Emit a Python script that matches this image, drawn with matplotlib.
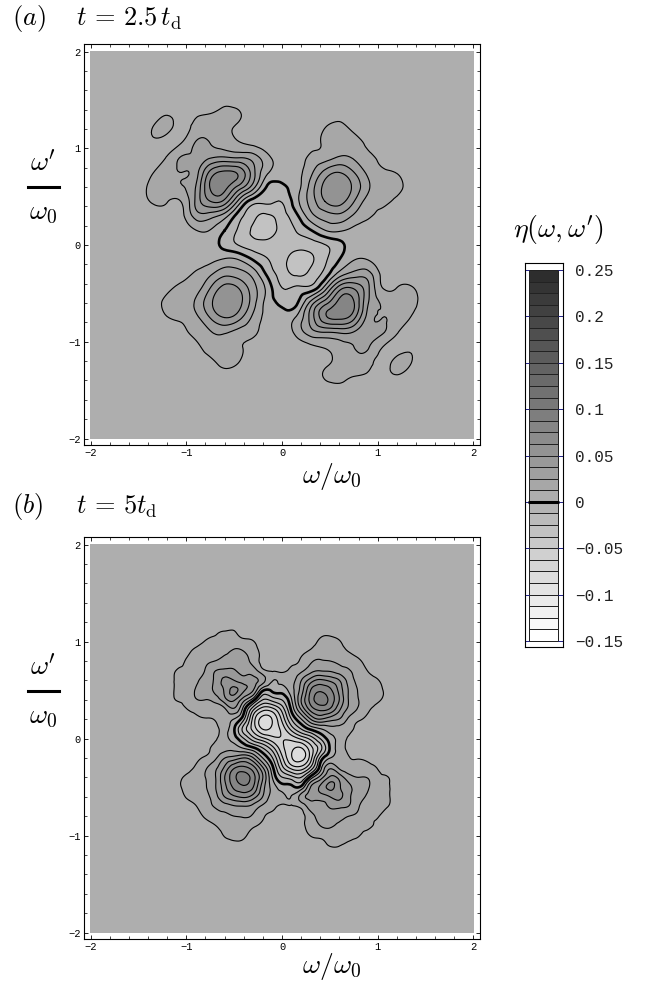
import numpy as np
import matplotlib
matplotlib.use("Agg")
import matplotlib.pyplot as plt
from matplotlib.colors import ListedColormap, BoundaryNorm
from matplotlib.lines import Line2D
from matplotlib.ticker import MultipleLocator
from matplotlib.tri import Triangulation, UniformTriRefiner

plt.rcParams['mathtext.fontset'] = 'cm'

W, H = 652, 985

# eta in units of 0.001, half plane only (eta(-w,-w') = eta(w,w'))
# rows are w' = 0, step, 2*step ... ; columns are |w| = 0, step, 2*step ...
step_a = 0.15
eta_a_right = [
    [-20, -21, -19, -13, -4, 5, 6, 6, 6, 6, 6, 6],
    [-21, -12, -1, 12, 14, 9, 7, 6, 6, 6, 6, 6],
    [-18, -3, 20, 31, 34, 23, 14, 9, 6, 6, 6, 6],
    [-12, 8, 30, 50, 55, 38, 20, 15, 10, 6, 6, 6],
    [-3, 7, 30, 54, 60, 47, 27, 17, 15, 8, 6, 6],
    [5, 8, 22, 42, 50, 38, 22, 14, 12, 6, 6, 6],
    [6, 6, 15, 20, 27, 24, 16, 10, 7, 6, 6, 6],
    [6, 6, 9, 14, 19, 18, 10, 7, 6, 6, 6, 6],
    [6, 6, 7, 13, 17, 10, 7, 6, 6, 6, 6, 6],
    [6, 6, 6, 6, 8, 6, 6, 6, 6, 6, 6, 6],
    [6, 6, 6, 6, 6, 6, 6, 6, 6, 6, 6, 6],
    [6, 6, 6, 6, 6, 6, 6, 6, 6, 6, 6, 6],
]
eta_a_left = [
    [-20, -21, -19, -13, -4, 5, 6, 6, 6, 6, 6, 6],
    [-21, -30, -27, -15, 0, 12, 12, 6, 6, 6, 6, 6],
    [-18, -27, -22, -7, 18, 30, 30, 9, 6, 6, 6, 6],
    [-12, -10, -7, 20, 58, 62, 40, 13, 13, 14, 7, 6],
    [-3, -2, 30, 58, 80, 76, 38, 24, 18, 16, 7, 6],
    [5, 14, 42, 72, 78, 66, 32, 25, 20, 12, 6, 6],
    [6, 16, 32, 38, 40, 37, 27, 26, 14, 7, 6, 6],
    [6, 6, 10, 14, 20, 25, 26, 13, 8, 10, 7, 6],
    [6, 6, 6, 9, 17, 20, 17, 9, 15, 13, 6, 6],
    [6, 6, 6, 14, 17, 13, 11, 9, 12, 7, 6, 6],
    [6, 6, 6, 6, 8, 6, 6, 6, 6, 6, 6, 6],
    [6, 6, 6, 6, 6, 6, 6, 6, 6, 6, 6, 6],
]

step_b = 0.1
eta_b_right = [
    [-62, -58, -47, -33, -12, 6, 15, 11, 8, 7, 6, 6, 6],
    [-58, -32, -12, 3, 12, 20, 20, 15, 10, 7, 6, 6, 6],
    [-47, -12, 12, 38, 50, 43, 37, 22, 14, 10, 7, 6, 6],
    [-33, 3, 38, 67, 78, 73, 52, 34, 23, 14, 9, 6, 6],
    [-12, 12, 50, 80, 94, 84, 62, 36, 25, 18, 14, 9, 6],
    [6, 20, 43, 75, 85, 78, 58, 36, 24, 18, 15, 10, 7],
    [15, 20, 37, 56, 65, 60, 50, 32, 22, 16, 13, 8, 6],
    [11, 15, 22, 33, 37, 36, 31, 26, 19, 12, 9, 7, 6],
    [8, 10, 14, 23, 26, 25, 23, 19, 14, 9, 7, 6, 6],
    [7, 7, 10, 14, 18, 18, 16, 12, 9, 8, 7, 6, 6],
    [6, 6, 7, 9, 14, 15, 13, 9, 7, 7, 6, 6, 6],
    [6, 6, 6, 6, 9, 10, 8, 7, 6, 6, 6, 6, 6],
    [6, 6, 6, 6, 6, 7, 6, 6, 6, 6, 6, 6, 6],
]
eta_b_left = [
    [-62, -58, -47, -33, -12, 6, 15, 11, 8, 7, 6, 6, 6],
    [-58, -72, -76, -55, -30, 1, 15, 10, 8, 7, 6, 6, 6],
    [-47, -74, -80, -55, -10, 12, 17, 13, 12, 11, 8, 6, 6],
    [-33, -55, -58, -35, 6, 35, 22, 17, 17, 15, 12, 8, 6],
    [-12, -20, -25, 5, 30, 52, 45, 30, 25, 24, 15, 13, 8],
    [6, 3, 3, 38, 52, 66, 52, 40, 30, 26, 16, 14, 8],
    [15, 13, 30, 42, 44, 50, 53, 40, 30, 22, 15, 14, 8],
    [11, 12, 16, 31, 32, 39, 40, 37, 26, 17, 14, 13, 7],
    [8, 8, 9, 20, 29, 30, 30, 25, 22, 15, 13, 8, 6],
    [7, 7, 10, 17, 25, 27, 21, 17, 16, 14, 10, 6, 6],
    [6, 6, 7, 13, 15, 16, 15, 14, 13, 9, 7, 6, 6],
    [6, 6, 6, 7, 9, 13, 13, 11, 8, 6, 6, 6, 6],
    [6, 6, 6, 6, 6, 8, 7, 7, 6, 6, 6, 6, 6],
]
background = 6

levels = np.arange(-12, 21) * 0.0125
bar_ticks = [0.25, 0.2, 0.15, 0.1, 0.05, 0, -0.05, -0.1, -0.15]
bar_labels = ['0.25', '0.2', '0.15', '0.1', '0.05', '0', '\u22120.05', '\u22120.1', '\u22120.15']
axis_ticks = [-2, -1, 0, 1, 2]
axis_labels = ['\u22122', '\u22121', '0', '1', '2']

grays = np.linspace(255, 45, len(levels) - 1) / 255
cmap = ListedColormap([(g, g, g) for g in grays])
norm = BoundaryNorm(levels, cmap.N)


def full_grid(left, right, step):
    top = np.hstack([np.array(left)[:, :0:-1], np.array(right)])
    z = np.vstack([top[:0:-1, ::-1], top]) / 1000
    n = (z.shape[0] - 1) // 2
    axis = np.arange(-n, n + 1) * step
    axis = np.r_[-2, axis, 2]
    return axis, np.pad(z, 1, constant_values=background / 1000)


def px_axes(fig, x0, y0, x1, y1):
    return fig.add_axes([x0 / W, 1 - y1 / H, (x1 - x0) / W, (y1 - y0) / H])


def draw_panel(ax, left, right, step):
    axis, z = full_grid(left, right, step)
    xx, yy = np.meshgrid(axis, axis)
    tri = Triangulation(xx.ravel(), yy.ravel())
    fine, zfine = UniformTriRefiner(tri).refine_field(z.ravel(), subdiv=3)
    ax.tricontourf(fine, zfine, levels=levels, cmap=cmap, norm=norm)
    thin = [l for l in levels if abs(l) > 1e-9]
    ax.tricontour(fine, zfine, levels=thin, colors='k', linewidths=0.8, linestyles='solid')
    ax.tricontour(fine, zfine, levels=[0], colors='k', linewidths=1.9, linestyles='solid')
    ax.set_xlim(-2.068, 2.068)
    ax.set_ylim(-2.067, 2.078)
    ax.set_xticks(axis_ticks, axis_labels, family='Liberation Mono', fontsize=7.5)
    ax.set_yticks(axis_ticks, axis_labels, family='Liberation Mono', fontsize=7.5)
    ax.xaxis.set_minor_locator(MultipleLocator(0.2))
    ax.yaxis.set_minor_locator(MultipleLocator(0.2))
    ax.tick_params(which='major', direction='in', length=3, width=0.6, top=True, right=True, pad=2.5)
    ax.tick_params(which='minor', direction='in', length=2, width=0.5, top=True, right=True)
    for s in ax.spines.values():
        s.set_linewidth(0.8)


fig = plt.figure(figsize=(W / 100, H / 100), dpi=100)

ax_a = px_axes(fig, 84, 44, 480, 445)
draw_panel(ax_a, eta_a_left, eta_a_right, step_a)
ax_b = px_axes(fig, 84, 537, 480, 939)
draw_panel(ax_b, eta_b_left, eta_b_right, step_b)


def label(x, y, s, size=19, ha='center'):
    fig.text(x / W, 1 - y / H, s, fontsize=size, ha=ha, va='center')


label(12, 19, r'$(a)$', ha='left')
label(76, 19, r'$t\,=\,2.5\,t_{\rm d}$', ha='left')
label(12, 507, r'$(b)$', ha='left')
label(76, 507, r'$t\,=\,5t_{\rm d}$', ha='left')
label(332, 476, r'$\omega/\omega_0$', size=20)
label(332, 967, r'$\omega/\omega_0$', size=20)
for bar_y in [187, 691]:
    label(43, bar_y - 23, r"$\omega'$", size=20)
    label(43, bar_y + 25, r'$\omega_0$', size=20)
    fig.add_artist(Line2D([28 / W, 59 / W], [1 - bar_y / H] * 2, color='k', lw=2.2))
label(558, 229, r"$\eta(\omega,\omega')$", size=20)

# grey scale key
ax_bar = px_axes(fig, 525, 263, 563, 647)
ax_bar.pcolormesh([0.1, 0.87], levels, ((levels[:-1] + levels[1:]) / 2)[:, None],
                  cmap=cmap, norm=norm, edgecolors='#222222', linewidth=0.5)
ax_bar.set_xlim(0, 1)
ax_bar.set_ylim(-0.15 - 6 / 927.5, 0.25 + 7 / 927.5)
ax_bar.hlines(bar_ticks, 0, 0.1, color='#20208a', lw=0.7)
ax_bar.hlines(bar_ticks, 0.87, 1, color='#20208a', lw=0.7)
ax_bar.hlines(0, 0.07, 0.9, color='k', lw=2.2)
ax_bar.set_xticks([])
ax_bar.set_yticks(bar_ticks, bar_labels, family='Liberation Mono', fontsize=11.5, color='#222222')
ax_bar.yaxis.tick_right()
ax_bar.tick_params(length=0, pad=8.5)
for s in ax_bar.spines.values():
    s.set_linewidth(0.8)

fig.savefig('out.png', dpi=100)
